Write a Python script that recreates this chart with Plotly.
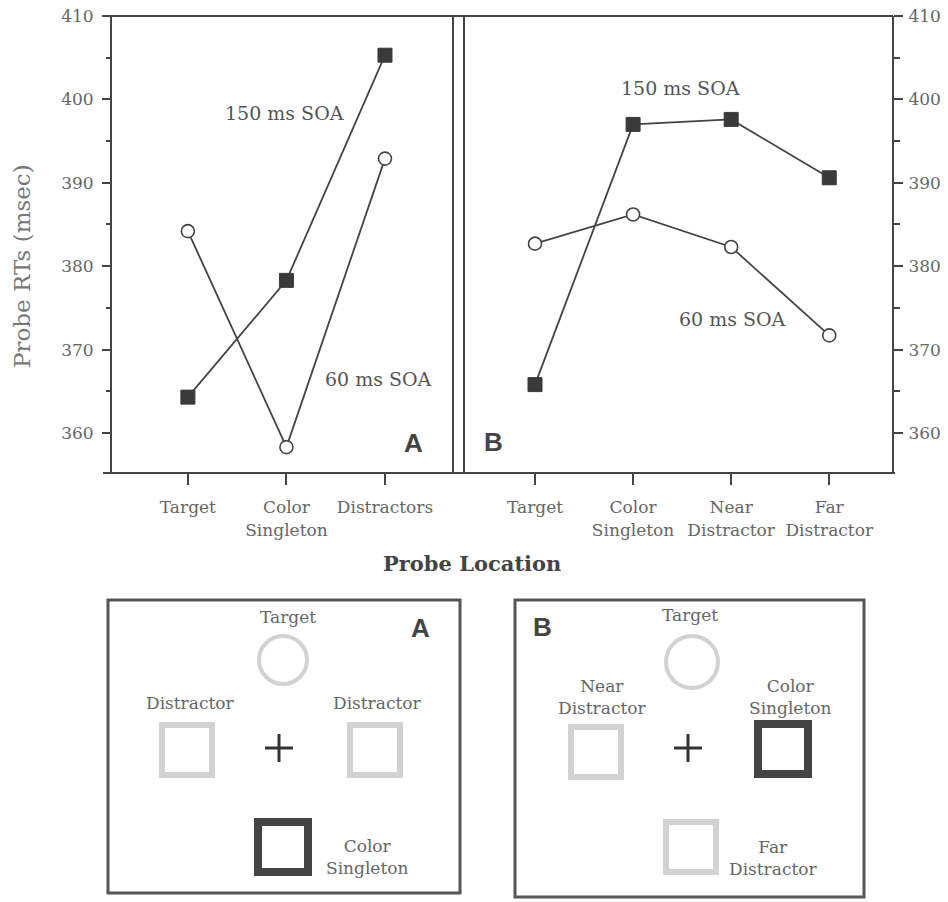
import plotly.graph_objects as go

# ---------------- data ----------------
cats_A = ["Target", "Color Singleton", "Distractors"]
soa150_A = [364.3, 378.3, 405.3]
soa60_A = [384.2, 358.3, 392.9]

cats_B = ["Target", "Color Singleton", "Near Distractor", "Far Distractor"]
soa150_B = [365.8, 397.0, 397.6, 390.6]
soa60_B = [382.7, 386.2, 382.3, 371.7]

y_ticks = [360, 370, 380, 390, 400, 410]
y_range = [355.2, 410.0]

W, H = 948, 902
def px(x):
    return x / W
def py(y):
    return 1 - y / H

SERIF = "DejaVu Serif"
LINE = "#444444"
TXT = "#666666"

fig = go.Figure()

def add_series(cats, vals, xa, ya, filled):
    if filled:
        marker = dict(symbol="square", size=14, color="#3a3a3a",
                      line=dict(color="#3a3a3a", width=1))
    else:
        marker = dict(symbol="circle", size=13, color="white",
                      line=dict(color=LINE, width=1.6))
    fig.add_trace(go.Scatter(x=cats, y=vals, xaxis=xa, yaxis=ya,
                             mode="lines+markers", marker=marker,
                             line=dict(color=LINE, width=1.8),
                             showlegend=False, cliponaxis=False))

add_series(cats_A, soa150_A, "x", "y", True)
add_series(cats_A, soa60_A, "x", "y", False)
add_series(cats_B, soa60_B, "x2", "y2", False)
add_series(cats_B, soa150_B, "x2", "y2", True)

tickfont = dict(family=SERIF, size=17, color=TXT)
xcommon = dict(type="category", ticks="outside", ticklen=11, tickwidth=2,
               tickcolor=LINE, showgrid=False, zeroline=False, showline=False,
               tickfont=tickfont, ticklabelstandoff=8, automargin=False)
ycommon = dict(range=y_range, tickvals=y_ticks, ticks="outside", tickwidth=2,
               tickcolor=LINE, showgrid=False, zeroline=False, showline=False,
               tickfont=dict(family=SERIF, size=17, color=TXT),
               domain=[py(473), py(16)], automargin=False)

fig.update_layout(
    template="none",
    width=W, height=H, autosize=False,
    margin=dict(l=0, r=0, t=0, b=0, pad=0),
    paper_bgcolor="white", plot_bgcolor="white",
    xaxis=dict(xcommon, domain=[px(111), px(453)], anchor="y",
               range=[-0.78, 2.69], tickvals=cats_A,
               ticktext=[c.replace(" ", "<br>") for c in cats_A]),
    xaxis2=dict(xcommon, domain=[px(464), px(893)], anchor="y2",
                range=[-0.724, 3.65], tickvals=cats_B,
                ticktext=[c.replace(" ", "<br>") for c in cats_B]),
    yaxis=dict(ycommon, anchor="x", side="left", ticklen=8,
               ticklabelstandoff=5,
               minor=dict(dtick=5, ticks="outside", ticklen=4,
                          tickcolor=LINE, tickwidth=2, showgrid=False)),
    yaxis2=dict(ycommon, anchor="x2", side="right", ticklen=9,
                ticklabelstandoff=2,
                minor=dict(dtick=5, ticks="outside", ticklen=6,
                           tickcolor=LINE, tickwidth=2, showgrid=False)),
)

shapes = []
def seg(x0, y0, x1, y1, color=LINE, width=2):
    shapes.append(dict(type="line", xref="paper", yref="paper",
                       x0=px(x0), y0=py(y0), x1=px(x1), y1=py(y1),
                       line=dict(color=color, width=width)))

# frame of top chart
seg(103, 16, 893, 16)
seg(103, 473, 895, 473)
seg(111, 16, 111, 473)
seg(893, 16, 893, 473)
seg(453, 16, 453, 473)
seg(464, 16, 464, 473)

def rect(x0, y0, x1, y1, color, width):
    shapes.append(dict(type="rect", xref="paper", yref="paper",
                       x0=px(x0), y0=py(y0), x1=px(x1), y1=py(y1),
                       line=dict(color=color, width=width)))

def square(cx, cy, side, color, width):
    h = side / 2
    rect(cx - h, cy - h, cx + h, cy + h, color, width)

def circle(cx, cy, r, color, width):
    shapes.append(dict(type="circle", xref="paper", yref="paper",
                       x0=px(cx - r), y0=py(cy - r), x1=px(cx + r), y1=py(cy + r),
                       line=dict(color=color, width=width)))

def plus(cx, cy, a=14):
    seg(cx - a, cy, cx + a, cy, "#333333", 3)
    seg(cx, cy - a, cx, cy + a, "#333333", 3)

LIGHT = "#d2d2d2"
DARK = "#444444"

# panel A display
rect(108, 600, 460, 893, "#555555", 3)
circle(283, 660, 24, LIGHT, 4)
square(187, 750, 50, LIGHT, 6)
square(375, 750, 50, LIGHT, 6)
square(283, 847, 50, DARK, 8)
plus(279, 748)

# panel B display
rect(515, 600, 864, 897, "#555555", 3)
circle(692, 662, 26, LIGHT, 4)
square(596, 752, 50, LIGHT, 6)
square(691, 847, 50, LIGHT, 6)
square(783, 749, 50, DARK, 8)
plus(688, 748)

fig.update_layout(shapes=shapes)

ann = []
def text_px(x, y, t, size=17, color=TXT, family=SERIF, angle=0):
    ann.append(dict(xref="paper", yref="paper", x=px(x), y=py(y), text=t,
                    showarrow=False, xanchor="center", yanchor="middle",
                    textangle=angle,
                    font=dict(family=family, size=size, color=color)))

def text_data(xr, yr, x, y, t, size=19):
    ann.append(dict(xref=xr, yref=yr, x=x, y=y, text=t, showarrow=False,
                    xanchor="center", yanchor="middle",
                    font=dict(family=SERIF, size=size, color="#555555")))

# series labels (positions in data units)
text_data("x", "y", 0.98, 398.4, "150 ms SOA")
text_data("x", "y", 1.93, 366.5, "60 ms SOA")
text_data("x2", "y2", 1.48, 401.4, "150 ms SOA")
text_data("x2", "y2", 2.01, 373.7, "60 ms SOA")

BOLD_SANS = "Liberation Sans"
text_px(413, 443, "<b>A</b>", 26, "#444444", BOLD_SANS)
text_px(493, 442, "<b>B</b>", 26, "#444444", BOLD_SANS)

text_px(22, 266, "Probe RTs (msec)", 23, "#777777", SERIF, -90)
text_px(472, 563, "<b>Probe Location</b>", 21, "#444444", SERIF)

# display labels
text_px(288, 617, "Target")
text_px(190, 703, "Distractor")
text_px(377, 703, "Distractor")
text_px(367, 857, "Color<br>Singleton")
text_px(420, 628, "<b>A</b>", 26, "#444444", BOLD_SANS)

text_px(542, 627, "<b>B</b>", 26, "#444444", BOLD_SANS)
text_px(690, 615, "Target")
text_px(602, 697, "Near<br>Distractor")
text_px(790, 697, "Color<br>Singleton")
text_px(773, 858, "Far<br>Distractor")

fig.update_layout(annotations=ann)

pin = ("document.body.style.margin='0';"
       "var d=document.getElementsByClassName('plotly-graph-div')[0];"
       "d.style.position='fixed';d.style.left='0px';d.style.top='0px';")
fig.write_html("out.html", post_script=pin, config={"displayModeBar": False})
